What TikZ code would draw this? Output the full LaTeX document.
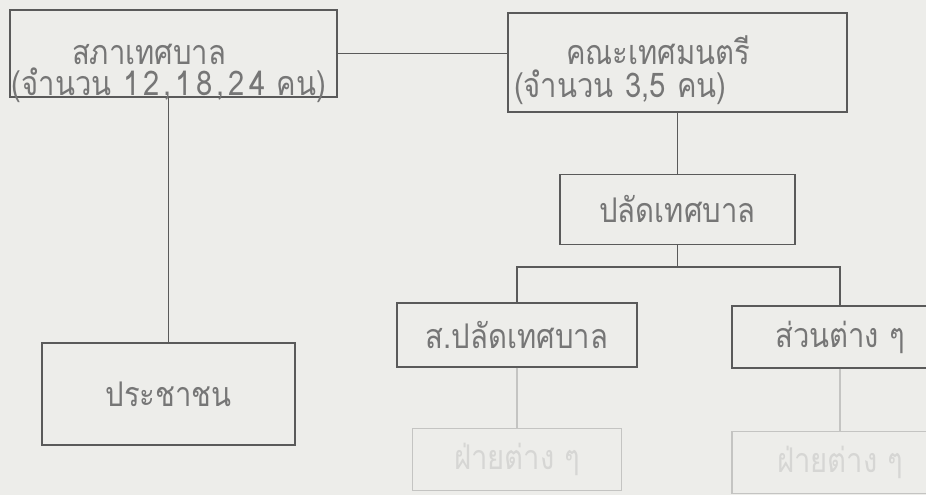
\documentclass[tikz,border=0pt]{standalone}
\usepackage{fontspec}
\newfontfamily\thaifont[Script=Thai,FakeStretch=0.86]{Loma}
\usetikzlibrary{positioning}

\definecolor{paper}{HTML}{EDEDEA}
\definecolor{ink}{HTML}{5A5A5A}
\definecolor{inktext}{HTML}{767676}
\definecolor{faded}{HTML}{C4C4C2}
\definecolor{fadedtext}{HTML}{D6D6D4}

\begin{document}
\begin{tikzpicture}[x=1pt, y=-1pt, font=\thaifont\fontsize{34}{31}\selectfont]

		\tikzstyle{unit}=[draw=ink, line width=1.3pt, text=inktext, inner sep=2pt, align=center]
		\tikzstyle{faint}=[draw=faded, line width=1.3pt, text=fadedtext, inner sep=2pt, align=center]
		\tikzstyle{link}=[draw=ink, line width=1.3pt]
		\tikzstyle{fadelink}=[draw=faded, line width=1.3pt]

		% Page
		\useasboundingbox (0,0) rectangle (926,495);
		\fill[paper] (0,0) rectangle (926,495);
		\clip (0,0) rectangle (926,495);

		% Council and executive
		\node[unit, text width=323pt, text height=53pt, text depth=30pt, align=left] (sapha) at (173.5,53.5)
		{\hspace*{60pt}สภาเทศบาล\\(จำนวน {\addfontfeature{LetterSpace=12}12,18,24} คน)};
		\node[unit, text width=327pt, text height=49pt, text depth=46pt, inner xsep=6pt, align=left] (khana) at (677.5,62.5)
		{\hspace*{52pt}คณะเทศมนตรี\\[2pt](จำนวน 3,5 คน)};
		\node[unit, minimum width=235pt, minimum height=70pt, below=61pt of khana] (palad) {ปลัดเทศบาล};

		% Offices
		\node[unit, minimum width=240pt, minimum height=64pt] (sorpalad) at (517,335) {ส.ปลัดเทศบาล};
		\node[unit, minimum width=216pt, minimum height=62pt] (suan) at (840,337) {ส่วนต่าง ๆ};

		% Citizens
		\node[unit, minimum width=253pt, minimum height=102pt] (people) at (168.5,394) {ประชาชน};

		% Sections (faded in the scan)
		\node[faint, minimum width=209pt, minimum height=62pt, below=60pt of sorpalad] (fai1) {ฝ่ายต่าง ๆ};
		\node[faint, minimum width=216pt, minimum height=62pt, below=62pt of suan] (fai2) {ฝ่ายต่าง ๆ};

		% Links
		\coordinate[below=22pt of palad] (fork);
		\draw[link] (sapha.east) -- (sapha.east -| khana.west);
		\draw[link] (people.north |- sapha.south) -- (people.north);
		\draw[link] (palad.north |- khana.south) -- (palad.north);
		\draw[link] (palad.south) -- (fork);
		\draw[link] (sorpalad.north) |- (fork) -| (suan.north);
		\draw[fadelink] (fai1.north |- sorpalad.south) -- (fai1.north);
		\draw[fadelink] (suan.south) -- (fai2.north);

\end{tikzpicture}
\end{document}
